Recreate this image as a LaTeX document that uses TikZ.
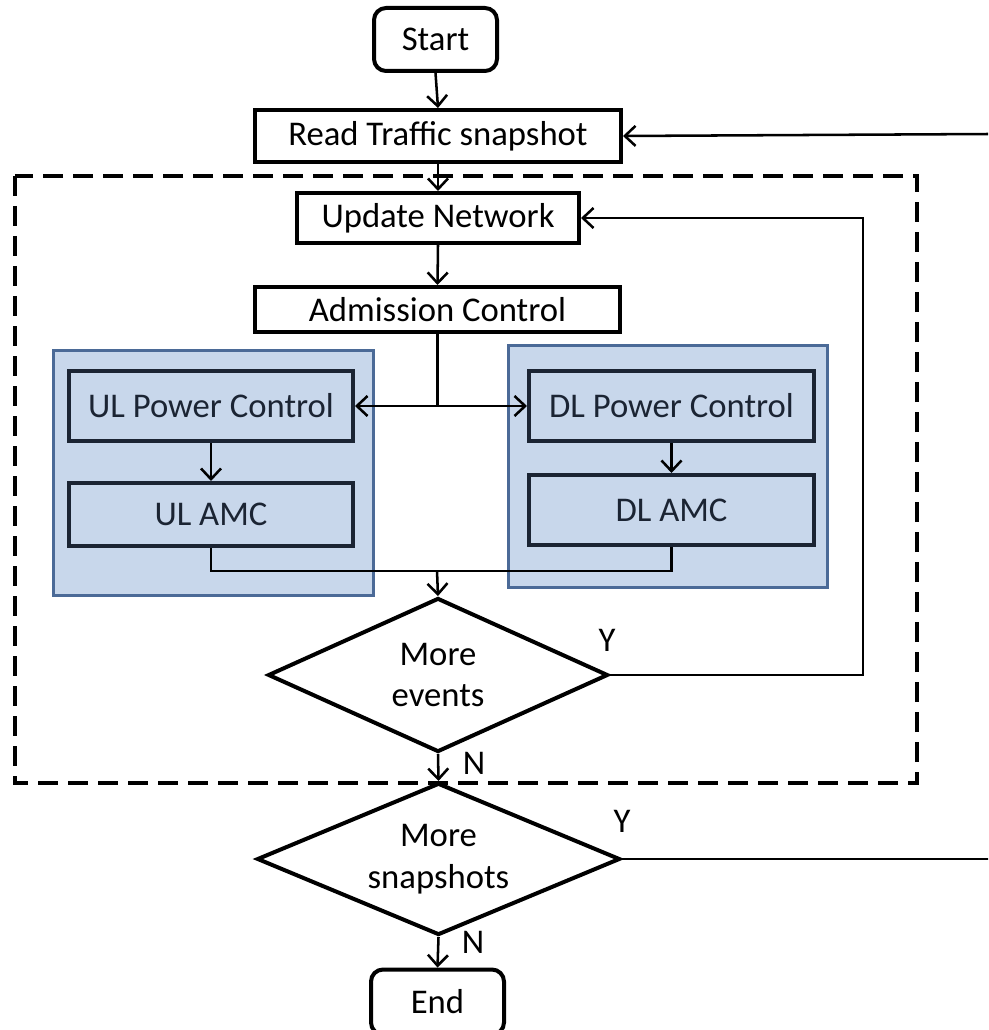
\documentclass[tikz,border=0pt]{standalone}
\usepackage{fontspec}
\setmainfont{Carlito}
\usetikzlibrary{arrows.meta,shapes.geometric}
\definecolor{bluefill}{HTML}{C8D7EB}
\definecolor{blueedge}{HTML}{4B6A97}
\definecolor{darkink}{HTML}{1B2433}
\tikzset{
  txt/.style={font=\fontsize{26}{31}\selectfont, align=center, inner sep=0pt},
  box/.style={draw=black, line width=3pt, fill=white, txt},
  rbox/.style={box, rounded corners=9pt},
  ibox/.style={draw=darkink, line width=3pt, fill=none, txt, text=darkink},
  group/.style={draw=blueedge, line width=2.25pt, fill=bluefill},
  dia/.style={draw=black, line width=3pt, fill=white, diamond, inner sep=0pt},
  conn/.style={line width=1.9pt, -{Straight Barb[length=8pt,width=15pt,line width=1.9pt]}},
  plain/.style={line width=1.9pt},
  dashbox/.style={line width=3pt, dash pattern=on 15pt off 7.5pt},
  yn/.style={txt}
}
\begin{document}
\begin{tikzpicture}[x=0.75pt,y=-0.75pt]
\useasboundingbox (0,0) rectangle (988,1030);
\clip (0,0) rectangle (988,1030);
\fill[white] (0,0) rectangle (988,1030);
% dashed frame
\draw[dashbox] (15,176) rectangle (917,783);
% blue groups
\draw[group] (53,350) rectangle (373,595);
\draw[group] (508,345) rectangle (827,587);
% nodes
\node[rbox, minimum width=92.25pt, minimum height=47.25pt] (start) at (435.5,39.5) {Start};
\node[box, minimum width=274.5pt, minimum height=39pt] (read) at (438,136) {Read Traffic snapshot};
\node[box, minimum width=211.5pt, minimum height=37.5pt] (update) at (438,218) {Update Network};
\node[box, minimum width=273.75pt, minimum height=33.75pt] (adm) at (437.5,309.5) {Admission Control};
\node[ibox, minimum width=213pt, minimum height=52.5pt] (ulpc) at (211,406) {UL Power Control};
\node[ibox, minimum width=213pt, minimum height=47.25pt] (ulamc) at (211,514.5) {UL AMC};
\node[ibox, minimum width=213.75pt, minimum height=52.5pt] (dlpc) at (671.5,406) {DL Power Control};
\node[ibox, minimum width=213.75pt, minimum height=52.5pt] (dlamc) at (671.5,510) {DL AMC};
\node[dia, minimum width=255pt, minimum height=115.5pt] (d1) at (438,675) {};
\node[txt] (d1t) at (d1) {More\\events};
\node[dia, minimum width=272.25pt, minimum height=114pt] (d2) at (438.5,859) {};
\node[txt] (d2t) at (d2) {More\\snapshots};
\node[rbox, minimum width=99.75pt, minimum height=48.75pt] (end) at (437.5,1002) {End};
% labels
\node[yn] (y1) at (607,640) {Y};
\node[yn] (n1) at (474,763) {N};
\node[yn] (y2) at (622,821) {Y};
\node[yn] (n2) at (473,942) {N};
% helper coordinates
\coordinate (j2) at (437,571);
\coordinate (r1) at (863,218);
\coordinate (r2) at (990,859);
\coordinate (r3) at (990,134);
% connectors
\draw[conn] (start.south) -- (read.north);
\draw[conn] (read.south) -- (update.north);
\draw[conn] (update.south) -- (adm.north);
\draw[conn] (adm.south) |- (ulpc.east);
\draw[conn] (adm.south) |- (dlpc.west);
\draw[conn] (ulpc.south) -- (ulamc.north);
\draw[conn] (dlpc.south) -- (dlamc.north);
\draw[plain] (ulamc.south) -- (ulamc.south |- j2) -- (dlamc.south |- j2) -- (dlamc.south);
\draw[conn] (j2) -- (d1.north);
\draw[conn] (d1.east) -| (r1) -- (update.east);
\draw[conn] (d1.south) -- (d2.north);
\draw[plain] (d2.east) -- (r2);
\draw[conn] (r3) -- (read.east);
\draw[conn] (d2.south) -- (end.north);
\end{tikzpicture}
\end{document}
